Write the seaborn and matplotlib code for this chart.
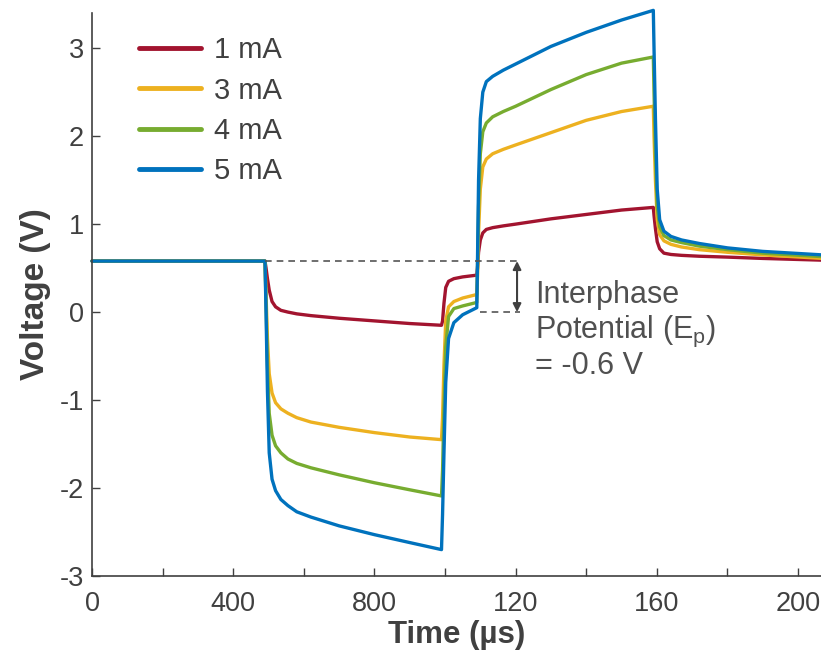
import numpy as np
import pandas as pd
import seaborn as sns
import matplotlib.pyplot as plt

# time samples (us)
time_us = [0, 490, 493, 497, 502, 510, 520, 535, 555, 580, 620, 700, 800, 900, 990,
           993, 997, 1002, 1010, 1025, 1050, 1090,
           1092, 1095, 1100, 1107, 1117, 1135, 1165, 1200, 1300, 1400, 1500, 1590,
           1592, 1596, 1601, 1608, 1620, 1640, 1670, 1720, 1800, 1900, 2070]

v_1ma = [0.58, 0.58, 0.50, 0.38, 0.25, 0.12, 0.06, 0.02, 0.00, -0.02, -0.04, -0.07, -0.10, -0.13, -0.15,
         -0.10, 0.10, 0.28, 0.35, 0.38, 0.40, 0.42,
         0.50, 0.68, 0.82, 0.90, 0.94, 0.96, 0.98, 1.00, 1.06, 1.11, 1.16, 1.19,
         1.10, 0.95, 0.80, 0.72, 0.67, 0.655, 0.645, 0.635, 0.625, 0.61, 0.59]
v_3ma = [0.58, 0.58, 0.20, -0.30, -0.70, -0.92, -1.03, -1.10, -1.15, -1.20, -1.25, -1.31, -1.37, -1.42, -1.45,
         -1.20, -0.60, -0.10, 0.06, 0.12, 0.16, 0.20,
         0.40, 0.90, 1.40, 1.65, 1.74, 1.80, 1.85, 1.90, 2.04, 2.18, 2.28, 2.34,
         2.00, 1.50, 1.05, 0.88, 0.81, 0.77, 0.74, 0.71, 0.68, 0.65, 0.61]
v_4ma = [0.58, 0.58, 0.10, -0.60, -1.15, -1.40, -1.52, -1.60, -1.67, -1.72, -1.77, -1.85, -1.94, -2.02, -2.09,
         -1.80, -1.10, -0.40, -0.05, 0.04, 0.07, 0.11,
         0.50, 1.20, 1.80, 2.05, 2.15, 2.22, 2.28, 2.34, 2.53, 2.70, 2.83, 2.90,
         2.50, 1.80, 1.20, 0.97, 0.87, 0.82, 0.79, 0.75, 0.71, 0.67, 0.63]
v_5ma = [0.58, 0.58, 0.00, -0.90, -1.60, -1.90, -2.03, -2.13, -2.20, -2.27, -2.33, -2.43, -2.53, -2.62, -2.70,
         -2.30, -1.60, -0.80, -0.30, -0.12, -0.03, 0.05,
         0.60, 1.50, 2.20, 2.50, 2.62, 2.68, 2.75, 2.82, 3.02, 3.18, 3.32, 3.43,
         3.00, 2.20, 1.40, 1.05, 0.92, 0.86, 0.82, 0.78, 0.73, 0.69, 0.65]

labels = ["1 mA", "3 mA", "4 mA", "5 mA"]
colors = ["#A2142F", "#EDB120", "#77AC30", "#0072BD"]

x_ticks = [0, 200, 400, 600, 800, 1000, 1200, 1400, 1600, 1800, 2000]
x_ticklabels = ["0", "", "400", "", "800", "", "120", "", "160", "", "200"]
y_ticks = [-3, -2, -1, 0, 1, 2, 3]
y_ticklabels = ["-3", "-2", "-1", "0", "1", "2", "3"]

frames = []
for lab, vals in zip(labels, [v_1ma, v_3ma, v_4ma, v_5ma]):
    frames.append(pd.DataFrame({"t": time_us, "v": vals, "cur": lab}))
df = pd.concat(frames, ignore_index=True)

sns.set_style("ticks")
plt.rcParams["font.family"] = ["Liberation Sans", "DejaVu Sans"]
grey = "#404040"

fig = plt.figure(figsize=(8.21, 6.56), dpi=100)
ax = fig.add_axes([92 / 821, 80 / 656, 729 / 821, 563 / 656])

sns.lineplot(data=df, x="t", y="v", hue="cur", palette=colors, sort=False,
             estimator=None, linewidth=2.4, ax=ax, clip_on=False)

ax.set_xlim(0, 2065)
ax.set_ylim(-3, 3.4)
ax.set_xticks(x_ticks)
ax.set_xticklabels(x_ticklabels)
ax.set_yticks(y_ticks)
ax.set_yticklabels(y_ticklabels)
ax.tick_params(direction="in", length=6, width=1, colors=grey, labelsize=19.5)
ax.tick_params(axis="x", pad=11)
ax.tick_params(axis="y", pad=6)
for s in ["top", "right"]:
    ax.spines[s].set_visible(False)
for s in ["left", "bottom"]:
    ax.spines[s].set_color(grey)
    ax.spines[s].set_linewidth(1.2)

ax.set_xlabel("Time (µs)", fontsize=22.5, fontweight="bold", color=grey, labelpad=2)
ax.set_ylabel("Voltage (V)", fontsize=24, fontweight="bold", color=grey, labelpad=6)

# interphase potential marker
ax.plot([490, 1213], [0.58, 0.58], color="#555555", lw=1.2, dashes=(4, 3))
ax.plot([1100, 1213], [0.0, 0.0], color="#555555", lw=1.2, dashes=(4, 3))
ax.annotate("", xy=(1204, 0.0), xytext=(1204, 0.58),
            arrowprops=dict(arrowstyle="<|-|>", color=grey, lw=1.5,
                            mutation_scale=12, shrinkA=0, shrinkB=0))
ax.text(1255, 0.36, "Interphase\nPotential (E$_\\mathregular{p}$)\n= -0.6 V",
        fontsize=22, color="#505050", va="top", ha="left", linespacing=1.12)

leg = ax.legend(loc="upper left", bbox_to_anchor=(0.028, 1.005), frameon=False,
                fontsize=21, handlelength=2.15, handletextpad=0.45, labelspacing=0.42)
for line in leg.get_lines():
    line.set_linewidth(3.5)
for t in leg.get_texts():
    t.set_color(grey)

fig.savefig("out.png", dpi=100)
